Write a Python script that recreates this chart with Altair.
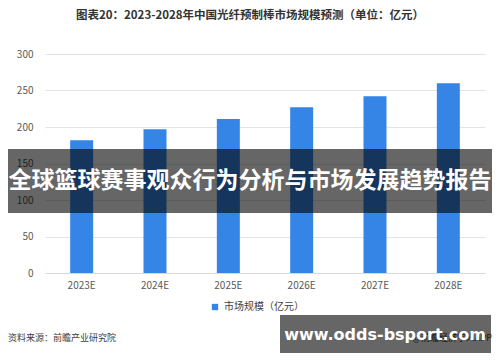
import altair as alt
import pandas as pd

years = ["2023E", "2024E", "2025E", "2026E", "2027E", "2028E"]
values = [182, 197, 211, 227, 242, 260]
series_name = "市场规模（亿元）"
y_ticks = [0, 50, 100, 150, 200, 250, 300]
title_text = "图表20：2023-2028年中国光纤预制棒市场规模预测（单位：亿元）"
source_text = "资料来源：前瞻产业研究院"
credit_text = "@前瞻经济学人APP"
banner_text = "全球篮球赛事观众行为分析与市场发展趋势报告"
url_text = "www.odds-bsport.com"

FONT = "Noto Sans CJK SC"

df = pd.DataFrame({"year": years, "value": values, "series": [series_name] * len(years)})
one = pd.DataFrame({"a": [0]})

bars = alt.Chart(df).mark_bar(size=23).encode(
    x=alt.X("year:N", sort=years, title=None,
            scale=alt.Scale(paddingInner=0, paddingOuter=0),
            axis=alt.Axis(labelAngle=0, labelColor="#595959", labelFontSize=10, ticks=False,
                          domainColor="#d9d9d9", labelPadding=7, labelFont=FONT)),
    y=alt.Y("value:Q", title=None, scale=alt.Scale(domain=[0, 300]),
            axis=alt.Axis(values=y_ticks, domain=False, ticks=False, gridColor="#e3e3e3",
                          labelColor="#595959", labelPadding=12, labelFontSize=10, labelFont=FONT)),
    color=alt.Color("series:N", scale=alt.Scale(range=["#3585e6"]),
                    legend=alt.Legend(title=None, orient="none", legendX=165, legendY=248,
                                      symbolType="square", symbolSize=40, labelFontSize=10,
                                      labelColor="#404040", labelFont=FONT, padding=0)),
)

title = alt.Chart(one).mark_text(font=FONT, fontSize=11.5, fontWeight="bold", color="#333333",
                                 align="center", baseline="middle").encode(
    x=alt.value(205), y=alt.value(-38), text=alt.value(title_text))

source = alt.Chart(one).mark_text(font=FONT, fontSize=9, color="#404040",
                                  align="left", baseline="middle").encode(
    x=alt.value(-37), y=alt.value(284), text=alt.value(source_text))

credit = alt.Chart(one).mark_text(font=FONT, fontSize=9, color="#404040",
                                  align="right", baseline="middle").encode(
    x=alt.value(447), y=alt.value(284), text=alt.value(credit_text))

banner1 = alt.Chart(one).mark_rect(color="black", opacity=0.6).encode(
    x=alt.value(-37), x2=alt.value(447), y=alt.value(95), y2=alt.value(159))

banner1_text = alt.Chart(one).mark_text(font=FONT, fontSize=23, fontWeight="bold", color="white",
                                        align="center", baseline="middle").encode(
    x=alt.value(205), y=alt.value(127), text=alt.value(banner_text))

banner2 = alt.Chart(one).mark_rect(color="black", opacity=0.6).encode(
    x=alt.value(235), x2=alt.value(446), y=alt.value(261), y2=alt.value(299))

banner2_text = alt.Chart(one).mark_text(font="DejaVu Sans", fontSize=16, fontWeight="bold", color="white",
                                        align="center", baseline="middle").encode(
    x=alt.value(340), y=alt.value(281), text=alt.value(url_text))

chart = alt.layer(bars, title, source, credit, banner1, banner1_text, banner2, banner2_text).properties(
    width=440, height=219,
    autosize=alt.AutoSizeParams(type="none"),
    padding={"left": 37, "top": 46, "right": 7, "bottom": 81},
).configure_view(stroke=None)

chart.save("out.html", embed_options={"renderer": "svg", "actions": False})
